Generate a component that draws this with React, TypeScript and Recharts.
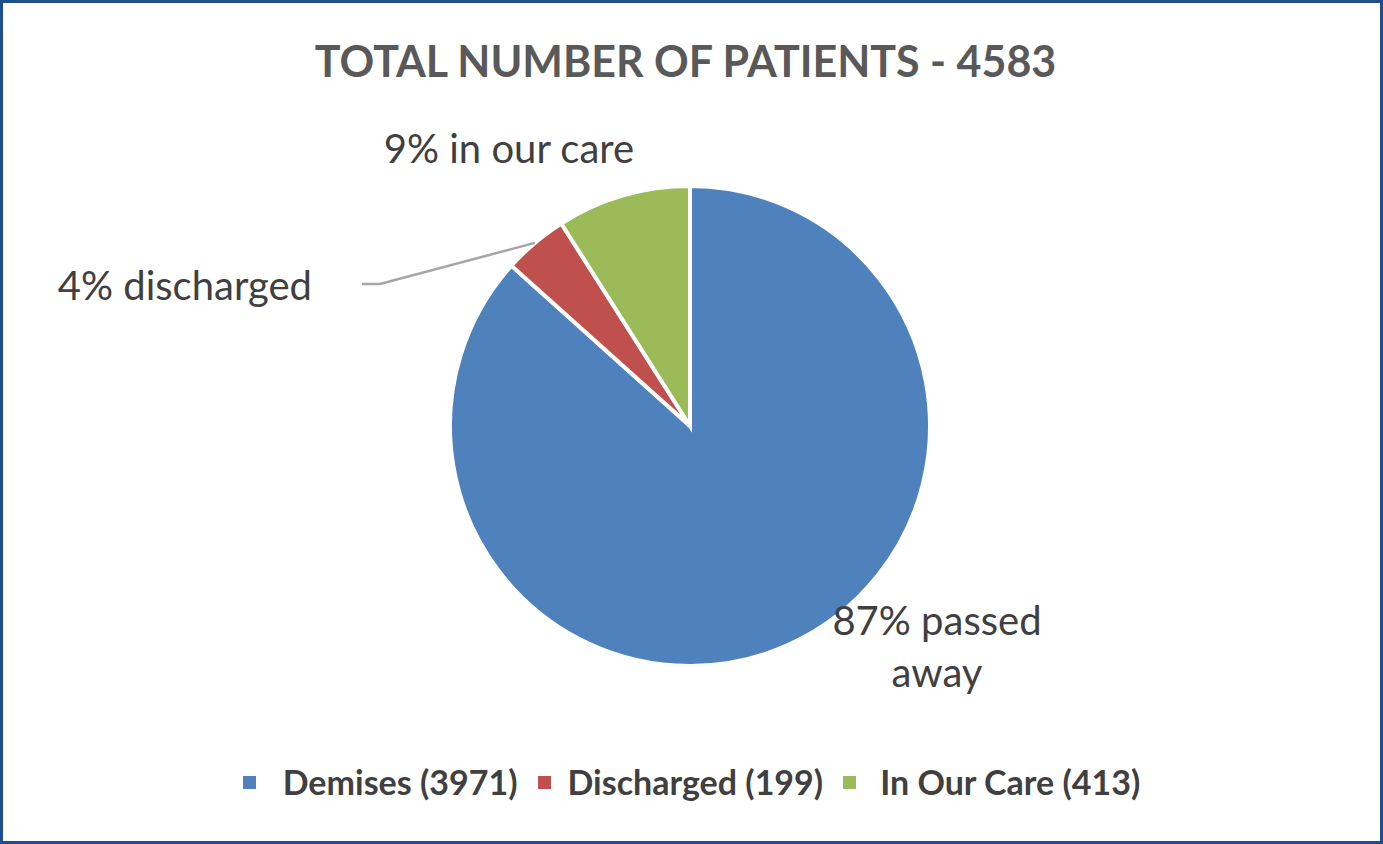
import { PieChart, Pie, Cell, Legend } from 'recharts'

// Datos del gráfico
const categories = ['Demises', 'Discharged', 'In Our Care']
const patients = [3971, 199, 413]
const labelTexts = [['87% passed', 'away'], ['4% discharged'], ['9% in our care']]
const titleText = 'TOTAL NUMBER OF PATIENTS - 4583'

const COLORS = ['#4F81BD', '#C0504D', '#9BBB59']
const FONT = 'Lato, "Open Sans", sans-serif'
const TEXT_COLOR = '#404040'

const data = categories.map((name, i) => ({ name, value: patients[i] }))

// Posición de cada etiqueta, relativa al centro del pie (ajustada a mano, como en Excel)
const LABEL_LAYOUT = [
  { dx: 247, dy: 194, anchor: 'middle' },
  { dx: -378, dy: -141, anchor: 'end' },
  { dx: -181, dy: -278, anchor: 'middle' },
]

// Separación entre el cuadrito y el texto de la leyenda
const LEGEND_SWATCH_GAP = [27, 17, 24]

const RADIAN = Math.PI / 180

function renderLabel(props: any) {
  const { cx, cy, midAngle, outerRadius, index } = props
  const layout = LABEL_LAYOUT[index]
  const x = cx + layout.dx
  const y = cy + layout.dy
  const lines = labelTexts[index]

  // Línea guía solo para la porción pequeña (Discharged)
  let leader = null
  if (index === 1) {
    const sx = cx + outerRadius * Math.cos(-midAngle * RADIAN)
    const sy = cy + outerRadius * Math.sin(-midAngle * RADIAN)
    const ex = x + 68
    const ey = y - 1
    leader = (
      <polyline
        points={`${sx},${sy} ${ex},${ey} ${x + 50},${ey}`}
        fill="none"
        stroke="#A6A6A6"
        strokeWidth={2.5}
      />
    )
  }

  return (
    <g key={`label-${index}`}>
      {leader}
      {lines.map((line, i) => (
        <text
          key={i}
          x={x}
          y={y + i * 52}
          textAnchor={layout.anchor as any}
          dominantBaseline="central"
          fill={TEXT_COLOR}
          fontFamily={FONT}
          fontSize={40}
        >
          {line}
        </text>
      ))}
    </g>
  )
}

function renderLegend(props: any) {
  const payload = props.payload || []
  return (
    <div style={{ display: 'flex', justifyContent: 'center', alignItems: 'center', gap: 20, fontFamily: FONT }}>
      {payload.map((entry: any, i: number) => (
        <div key={i} style={{ display: 'flex', alignItems: 'center' }}>
          <span style={{ width: 13, height: 13, background: entry.color, marginRight: LEGEND_SWATCH_GAP[i] }} />
          <span style={{ fontSize: 34, fontWeight: 700, color: TEXT_COLOR, lineHeight: '40px' }}>
            {`${entry.value} (${patients[i]})`}
          </span>
        </div>
      ))}
    </div>
  )
}

export default function App() {
  return (
    <div
      style={{
        position: 'absolute',
        top: 0,
        left: 0,
        width: 1383,
        height: 844,
        boxSizing: 'border-box',
        border: '3px solid #1F4E8C',
        background: '#fff',
      }}
    >
      <div
        style={{
          position: 'absolute',
          top: 33,
          left: 0,
          width: '100%',
          textAlign: 'center',
          fontFamily: FONT,
          fontWeight: 700,
          fontSize: 43,
          color: '#595959',
          lineHeight: '50px',
          paddingRight: 12,
          boxSizing: 'border-box',
        }}
      >
        {titleText}
      </div>
      <PieChart width={1377} height={838} margin={{ top: 0, right: 0, bottom: 0, left: 0 }}>
        <Pie
          data={data}
          dataKey="value"
          nameKey="name"
          cx={687}
          cy={423}
          outerRadius={240}
          startAngle={90}
          endAngle={-270}
          stroke="#FFFFFF"
          strokeWidth={4}
          label={renderLabel}
          labelLine={false}
          isAnimationActive={false}
        >
          {data.map((entry, i) => (
            <Cell key={entry.name} fill={COLORS[i]} />
          ))}
        </Pie>
        <Legend
          content={renderLegend}
          verticalAlign="bottom"
          wrapperStyle={{ top: 759, bottom: 'auto', left: 0, width: 1377 }}
        />
      </PieChart>
    </div>
  )
}
